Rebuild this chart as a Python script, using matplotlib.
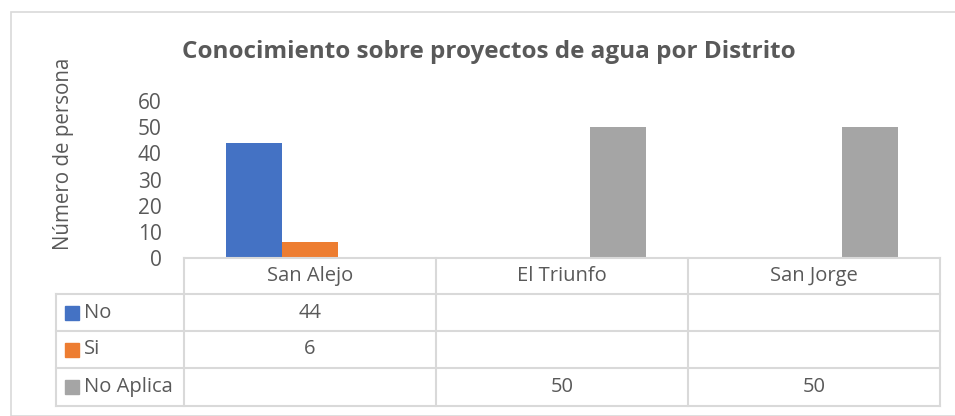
import matplotlib.pyplot as plt
import numpy as np
from matplotlib.patches import Rectangle

plt.rcParams['font.family'] = ['Open Sans', 'DejaVu Sans']

districts = ['San Alejo', 'El Triunfo', 'San Jorge']
series = ['No', 'Si', 'No Aplica']
no_vals = [44, None, None]
si_vals = [6, None, None]
na_vals = [None, 50, 50]
colors = ['#4472C4', '#ED7D31', '#A5A5A5']
yticks = [0, 10, 20, 30, 40, 50, 60]

TXT = '#595959'
GRID = '#D9D9D9'
W, H = 955, 416

fig = plt.figure(figsize=(W / 100, H / 100), dpi=100)


def fx(px):
    return px / W


def fy(py):
    return 1 - py / H


# outer chart border
fig.patches.append(Rectangle((fx(11), fy(416)), fx(960) - fx(11), fy(12) - fy(416),
                             transform=fig.transFigure, fill=False,
                             edgecolor=GRID, lw=1.2))

# plot area
left, right, top, bottom = 184, 940, 101, 258
ax = fig.add_axes([fx(left), fy(bottom), fx(right) - fx(left), fy(top) - fy(bottom)])
x = np.arange(len(districts))
bw = 0.222
for i, (vals, c) in enumerate(zip([no_vals, si_vals, na_vals], colors)):
    xs = [xi + (i - 1) * bw for xi, v in zip(x, vals) if v is not None]
    hs = [v for v in vals if v is not None]
    ax.bar(xs, hs, width=bw, color=c, zorder=3)
ax.set_xlim(-0.5, 2.5)
ax.set_ylim(0, 60)
ax.set_yticks(yticks)
ax.set_xticks([])
ax.tick_params(axis='y', length=0, labelsize=15, labelcolor=TXT, pad=16)
for s in ax.spines.values():
    s.set_visible(False)
ax.set_ylabel('Número de persona', fontsize=14.8, color=TXT, va='center')
ax.yaxis.set_label_coords(fx(63), fy(154), transform=fig.transFigure)

fig.text(fx(489), fy(52), 'Conocimiento sobre proyectos de agua por Distrito',
         ha='center', va='center', fontsize=17.5, fontweight='bold', color=TXT)

# data table
col_edges = [184, 436, 688, 940]
row_edges = [258, 294, 331, 368, 406]
tx = fig.add_axes([0, 0, 1, 1])
tx.set_xlim(0, W)
tx.set_ylim(H, 0)
tx.axis('off')
tx.patch.set_alpha(0)
lk = dict(color=GRID, lw=1.5, solid_capstyle='projecting')
tx.plot([col_edges[0], col_edges[-1]], [row_edges[0]] * 2, **lk)
for r in row_edges[1:]:
    tx.plot([56, col_edges[-1]], [r, r], **lk)
for c in col_edges:
    tx.plot([c, c], [row_edges[0], row_edges[-1]], **lk)
tx.plot([56, 56], [row_edges[1], row_edges[-1]], **lk)

fs = 14.5
for j, d in enumerate(districts):
    cx = (col_edges[j] + col_edges[j + 1]) / 2
    tx.text(cx, (row_edges[0] + row_edges[1]) / 2, d, ha='center', va='center',
            fontsize=fs, color=TXT)
for i, (name, vals, c) in enumerate(zip(series, [no_vals, si_vals, na_vals], colors)):
    cy = (row_edges[i + 1] + row_edges[i + 2]) / 2
    tx.add_patch(Rectangle((65, cy - 7), 14, 14, color=c))
    tx.text(84, cy, name, ha='left', va='center', fontsize=fs, color=TXT)
    for j, v in enumerate(vals):
        if v is not None:
            cx = (col_edges[j] + col_edges[j + 1]) / 2
            tx.text(cx, cy, str(v), ha='center', va='center', fontsize=fs, color=TXT)

fig.savefig('out.png', dpi=100)
